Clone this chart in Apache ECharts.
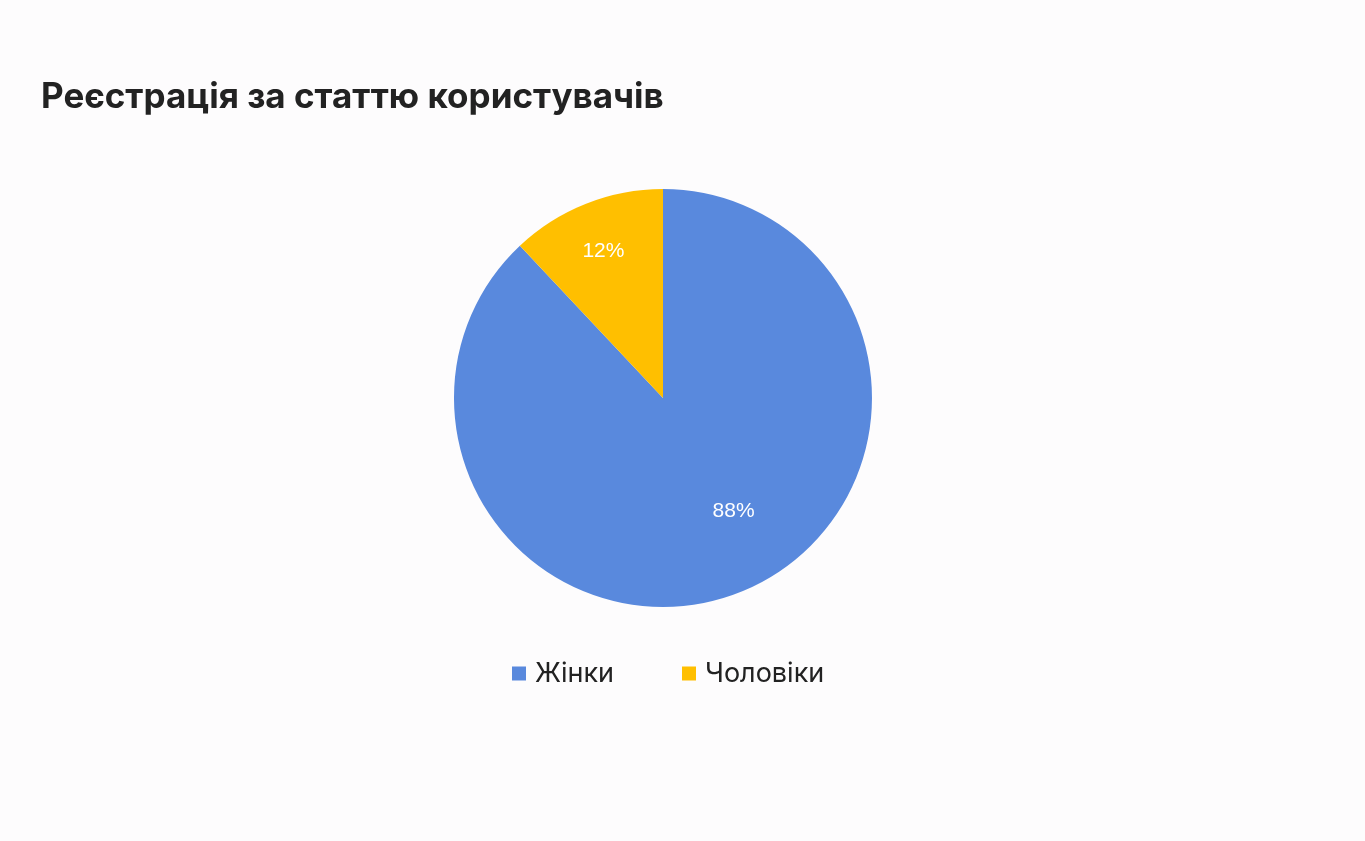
<!DOCTYPE html>
<html><head><meta charset="utf-8">
<script src="https://cdn.jsdelivr.net/npm/echarts@6/dist/echarts.min.js"></script>
<style>html,body{margin:0;padding:0;background:#fdfcfd;}#c{width:1365px;height:841px;}</style>
</head><body><div id="c"></div>
<script>
const categories = ['Жінки', 'Чоловіки'];
const values = [88, 12];
const colors = ['#5989dd', '#ffbf00'];
const labelOffsets = [[31, 13], [-20, -47]];

const chart = echarts.init(document.getElementById('c'));
chart.setOption({
  backgroundColor: '#fdfcfd',
  animation: false,
  title: {
    text: 'Реєстрація за статтю користувачів',
    left: 41, top: 80, padding: 0,
    textStyle: { fontFamily: 'Inter', fontWeight: 700, fontSize: 35, color: '#222222' }
  },
  legend: {
    data: categories,
    left: 512, top: 660, padding: 0,
    itemWidth: 14, itemHeight: 14, itemGap: 68,
    icon: 'rect',
    textStyle: { fontFamily: 'Inter', fontSize: 27, lineHeight: 27, color: '#222222', padding: [0, 0, 0, 4] }
  },
  series: [{
    type: 'pie',
    center: ['48.57%', 398],
    radius: [0, 209],
    startAngle: 90,
    clockwise: true,
    avoidLabelOverlap: false,
    label: {
      show: true, position: 'inside',
      formatter: '{d}%',
      color: '#ffffff', fontFamily: 'Liberation Sans', fontSize: 21
    },
    labelLine: { show: false },
    itemStyle: { borderWidth: 0 },
    emphasis: { disabled: true },
    data: categories.map((n, i) => ({
      name: n, value: values[i],
      itemStyle: { color: colors[i] },
      label: { offset: labelOffsets[i] }
    }))
  }]
});
</script></body></html>
